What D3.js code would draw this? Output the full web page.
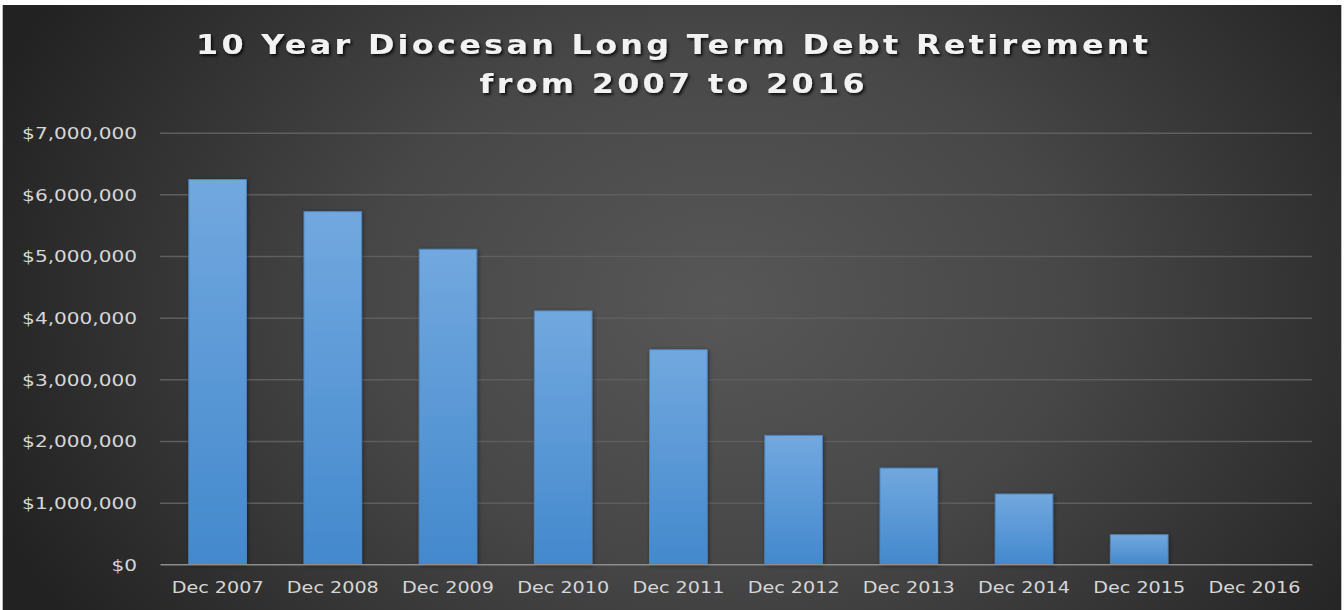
<!DOCTYPE html>
<html>
<head>
<meta charset="utf-8">
<script src="https://cdn.jsdelivr.net/npm/d3@7"></script>
<style>
html,body{margin:0;padding:0;background:#fff;}
svg{display:block;}
</style>
</head>
<body>
<svg id="chart" width="1344" height="610"></svg>
<script>
const categories = ["Dec 2007","Dec 2008","Dec 2009","Dec 2010","Dec 2011","Dec 2012","Dec 2013","Dec 2014","Dec 2015","Dec 2016"];
const debtValues = [6240000,5720000,5110000,4110000,3480000,2090000,1560000,1140000,480000,0];
const yTicks = [0,1000000,2000000,3000000,4000000,5000000,6000000,7000000];
const titleLines = ["10 Year Diocesan Long Term Debt Retirement","from 2007 to 2016"];

const svg = d3.select("#chart");
const W = 1344, H = 610;
const defs = svg.append("defs");

const bg = defs.append("radialGradient").attr("id","bgGrad")
  .attr("gradientUnits","userSpaceOnUse").attr("cx",720).attr("cy",300).attr("r",780)
  .attr("gradientTransform","translate(720,300) scale(1,0.75) translate(-720,-300)");
bg.append("stop").attr("offset","0%").attr("stop-color","#575757");
bg.append("stop").attr("offset","45%").attr("stop-color","#474747");
bg.append("stop").attr("offset","100%").attr("stop-color","#222222");

const barGrad = defs.append("linearGradient").attr("id","barGrad")
  .attr("x1",0).attr("y1",0).attr("x2",0).attr("y2",1);
barGrad.append("stop").attr("offset","0%").attr("stop-color","#72a8df");
barGrad.append("stop").attr("offset","100%").attr("stop-color","#4389cd");

const shadow = defs.append("filter").attr("id","txtShadow").attr("x","-10%").attr("y","-30%").attr("width","120%").attr("height","160%");
shadow.append("feDropShadow").attr("dx",1.5).attr("dy",2).attr("stdDeviation",1.5).attr("flood-color","#000").attr("flood-opacity",0.8);

const barShadow = defs.append("filter").attr("id","barShadow").attr("x","-20%").attr("y","-20%").attr("width","140%").attr("height","140%");
barShadow.append("feDropShadow").attr("dx",1).attr("dy",1).attr("stdDeviation",2).attr("flood-color","#000").attr("flood-opacity",0.45);

// background
svg.append("rect").attr("x",3).attr("y",5).attr("width",1338).attr("height",H-5).attr("fill","url(#bgGrad)");
svg.append("line").attr("x1",2.5).attr("x2",2.5).attr("y1",5).attr("y2",H).attr("stroke","#bdbdbd").attr("stroke-width",1);
svg.append("line").attr("x1",1341.5).attr("x2",1341.5).attr("y1",5).attr("y2",H).attr("stroke","#bdbdbd").attr("stroke-width",1);

const plotLeft = 160, plotRight = 1312, plotTop = 132.7, plotBottom = 564.3;

const x = d3.scaleBand().domain(categories).range([plotLeft, plotRight]).paddingInner(0.5).paddingOuter(0.25);
const y = d3.scaleLinear().domain([0,7000000]).range([plotBottom, plotTop]);

// gridlines
const grid = svg.append("g").attr("class","grid")
  .attr("transform",`translate(${plotLeft},0)`)
  .call(d3.axisLeft(y).tickValues(yTicks.filter(v=>v>0)).tickSize(-(plotRight-plotLeft)).tickFormat(""));
grid.select(".domain").remove();
grid.selectAll("line").attr("stroke","#5e5e5e").attr("stroke-width",1.5);

// y axis labels
const fmt = v => "$" + d3.format(",")(v);
const yAxis = svg.append("g").attr("transform",`translate(${plotLeft},0)`)
  .call(d3.axisLeft(y).tickValues(yTicks).tickSize(0).tickPadding(23).tickFormat(fmt));
yAxis.select(".domain").remove();
const yTexts = yAxis.selectAll("text").attr("fill","#d6d6d6").attr("font-family","DejaVu Sans").attr("font-size",16)
  .attr("dy","0.36em");
const yMax = d3.max(yTexts.nodes(), n => n.getComputedTextLength());
const yStretch = 115 / yMax;
yTexts.attr("x",-23/yStretch).attr("transform",`scale(${yStretch},1)`);

// bars
svg.append("g").selectAll("rect").data(categories.map((c,i)=>({c, v: debtValues[i]})).filter(d=>d.v>0))
  .join("rect")
  .attr("x",d=>x(d.c)).attr("width",x.bandwidth())
  .attr("y",d=>y(d.v)).attr("height",d=>y(0)-y(d.v))
  .attr("fill","url(#barGrad)").attr("stroke","#4f86c0").attr("stroke-width",1)
  .attr("filter","url(#barShadow)");

// x axis
const xAxis = svg.append("g").attr("transform",`translate(0,${plotBottom})`)
  .call(d3.axisBottom(x).tickSize(0).tickPadding(17));
xAxis.select(".domain").attr("stroke","#8c8c8c").attr("stroke-width",1.5);
const xTexts = xAxis.selectAll("text").attr("fill","#d6d6d6").attr("font-family","DejaVu Sans").attr("font-size",16.5);
const xLen = xTexts.node().getComputedTextLength();
xTexts.attr("transform",`scale(${92 / xLen},1)`);

// title
const titleY = [53.5, 92.5];
const titleWidths = [952, 385];
const titleStretch = 1.2;
titleLines.forEach((t,i)=>{
  const g = svg.append("g").attr("transform",`translate(672,${titleY[i]}) scale(${titleStretch},1)`);
  const tx = g.append("text").attr("x",0).attr("y",0).attr("text-anchor","middle")
    .attr("font-family","DejaVu Sans").attr("font-weight","bold").attr("font-size",26.5)
    .attr("fill","#f2f2f2").attr("filter","url(#txtShadow)").text(t);
  const len = tx.node().getComputedTextLength();
  const ls = (titleWidths[i]/titleStretch - len) / (t.length - 1);
  tx.attr("letter-spacing", ls + "px").attr("x", ls/2);
});
</script>
</body>
</html>
